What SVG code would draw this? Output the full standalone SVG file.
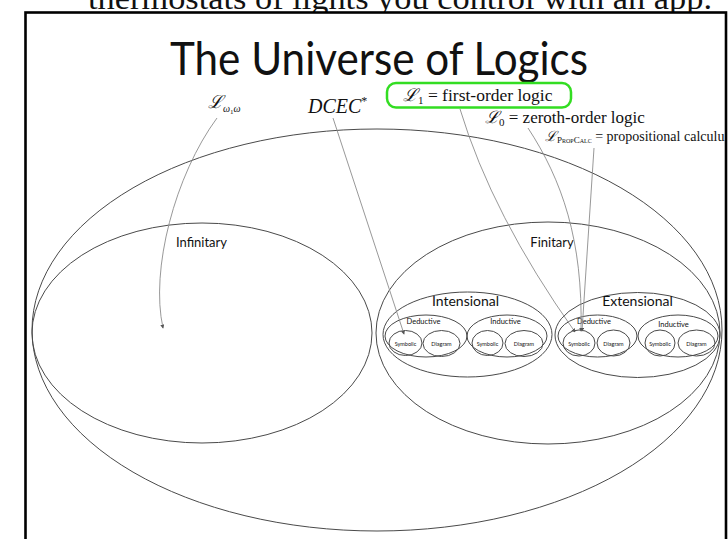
<svg xmlns="http://www.w3.org/2000/svg" width="728" height="539" viewBox="0 0 728 539">
<defs>
<marker id="ah" viewBox="0 0 6 6" refX="5" refY="3" markerWidth="4" markerHeight="4" orient="auto" markerUnits="userSpaceOnUse">
<path d="M0,0 L6,3 L0,6 z" fill="#555"/>
</marker>
<style>
.el{fill:none;stroke:#4a4a4a;stroke-width:1}
.cn{fill:none;stroke:#8c8c8c;stroke-width:0.9;marker-end:url(#ah)}
.gs{font-family:Lato,"Open Sans","DejaVu Sans",sans-serif;fill:#111}
.tx{font-family:"Liberation Serif","DejaVu Serif",serif;fill:#111}
.sc{font-family:"DejaVu Serif","Liberation Serif",serif;font-style:italic}
</style>
</defs>
<rect width="728" height="539" fill="#fff"/>
<text x="88" y="9" font-family="Liberation Serif, DejaVu Serif, serif" font-size="32" fill="#111" textLength="624" lengthAdjust="spacingAndGlyphs">thermostats of lights you control with an app.</text>
<rect x="25.5" y="12.5" width="700.5" height="540" fill="#fff" stroke="#000" stroke-width="2.6"/>
<text class="gs" x="379" y="75" font-size="46" text-anchor="middle" textLength="418" lengthAdjust="spacingAndGlyphs">The Universe of Logics</text>

<g id="outer"><ellipse class="el" cx="377" cy="330" rx="345" ry="201"/></g>

<g id="infinitary">
<ellipse class="el" cx="202" cy="333" rx="170" ry="110"/>
<text class="gs" x="201.5" y="247" font-size="13" text-anchor="middle">Infinitary</text>
</g>

<g id="finitary">
<ellipse class="el" cx="548" cy="333" rx="172" ry="111"/>
<text class="gs" x="552" y="247" font-size="13" text-anchor="middle">Finitary</text>
</g>

<g id="intensional">
<ellipse class="el" cx="467.5" cy="334.5" rx="84.5" ry="42.5"/>
<text class="gs" x="465.5" y="306" font-size="14" text-anchor="middle">Intensional</text>
</g>
<g id="int-deductive">
<ellipse class="el" cx="426" cy="336" rx="41" ry="21"/>
<text class="gs" x="423.5" y="324" font-size="7.5" text-anchor="middle">Deductive</text>
</g>
<g id="int-ded-symbolic">
<ellipse class="el" cx="405.5" cy="343" rx="16.5" ry="12.5"/>
<text class="gs" x="405.5" y="345.5" font-size="5.5" text-anchor="middle">Symbolic</text>
</g>
<g id="int-ded-diagram">
<ellipse class="el" cx="441.5" cy="343.5" rx="18.5" ry="13"/>
<text class="gs" x="441.5" y="346" font-size="5.5" text-anchor="middle">Diagram</text>
</g>
<g id="int-inductive">
<ellipse class="el" cx="507" cy="336" rx="40" ry="21"/>
<text class="gs" x="505.5" y="324" font-size="7.5" text-anchor="middle">Inductive</text>
</g>
<g id="int-ind-symbolic">
<ellipse class="el" cx="487.5" cy="343" rx="15.5" ry="12.5"/>
<text class="gs" x="487.5" y="345.5" font-size="5.5" text-anchor="middle">Symbolic</text>
</g>
<g id="int-ind-diagram">
<ellipse class="el" cx="524" cy="343.5" rx="19" ry="13"/>
<text class="gs" x="524" y="346" font-size="5.5" text-anchor="middle">Diagram</text>
</g>

<g id="extensional">
<ellipse class="el" cx="637.5" cy="335" rx="82.5" ry="42.5"/>
<text class="gs" x="637.5" y="306" font-size="14" text-anchor="middle">Extensional</text>
</g>
<g id="ext-deductive">
<ellipse class="el" cx="597.5" cy="336" rx="39.5" ry="21"/>
<text class="gs" x="594" y="324" font-size="7.5" text-anchor="middle">Deductive</text>
</g>
<g id="ext-ded-symbolic">
<ellipse class="el" cx="579" cy="343" rx="16" ry="13"/>
<text class="gs" x="579" y="345.5" font-size="5.5" text-anchor="middle">Symbolic</text>
</g>
<g id="ext-ded-diagram">
<ellipse class="el" cx="613.5" cy="343" rx="16.5" ry="13"/>
<text class="gs" x="613.5" y="345.5" font-size="5.5" text-anchor="middle">Diagram</text>
</g>
<g id="ext-inductive">
<ellipse class="el" cx="678" cy="336" rx="40" ry="21"/>
<text class="gs" x="673.5" y="327" font-size="7.5" text-anchor="middle">Inductive</text>
</g>
<g id="ext-ind-symbolic">
<ellipse class="el" cx="660" cy="343" rx="15" ry="13"/>
<text class="gs" x="660" y="345.5" font-size="5.5" text-anchor="middle">Symbolic</text>
</g>
<g id="ext-ind-diagram">
<ellipse class="el" cx="696.5" cy="343" rx="18.5" ry="13"/>
<text class="gs" x="696.5" y="345.5" font-size="5.5" text-anchor="middle">Diagram</text>
</g>

<g id="connectors">
<path class="cn" d="M217,118 C175,175 150,270 163,328"/>
<path class="cn" d="M333,118 L404,334"/>
<path class="cn" d="M460,109 Q492,215 575,332"/>
<path class="cn" d="M528,128 C562,180 583,240 581,331"/>
<path class="cn" d="M594,148 L582,331"/>
</g>

<g id="l-omega">
<text class="tx" x="208" y="108" font-size="18"><tspan class="sc">ℒ</tspan><tspan font-size="10" dy="4" font-style="italic">ω</tspan><tspan font-size="7" dy="2">1</tspan><tspan font-size="10" dy="-2" font-style="italic">ω</tspan></text>
</g>
<g id="dcec">
<text class="tx" x="308" y="113" font-size="20" font-style="italic">DCEC<tspan font-size="12" dy="-8" font-style="normal">*</tspan></text>
</g>
<g id="l1">
<rect x="387" y="83" width="184" height="24.5" rx="9" fill="none" stroke="#33dd22" stroke-width="2.5"/>
<text class="tx" x="403" y="101" font-size="17.5"><tspan class="sc">ℒ</tspan><tspan font-size="11" dy="3">1</tspan><tspan dy="-3"> = first-order logic</tspan></text>
</g>
<g id="l0">
<text class="tx" x="485" y="123" font-size="17"><tspan class="sc">ℒ</tspan><tspan font-size="11" dy="3">0</tspan><tspan dy="-3"> = zeroth-order logic</tspan></text>
</g>
<g id="lprop">
<text class="tx" x="545" y="141" font-size="14"><tspan class="sc">ℒ</tspan><tspan font-size="9" dy="2" font-variant="small-caps">PropCalc</tspan><tspan dy="-2"> = propositional calculu</tspan></text>
</g>
</svg>
